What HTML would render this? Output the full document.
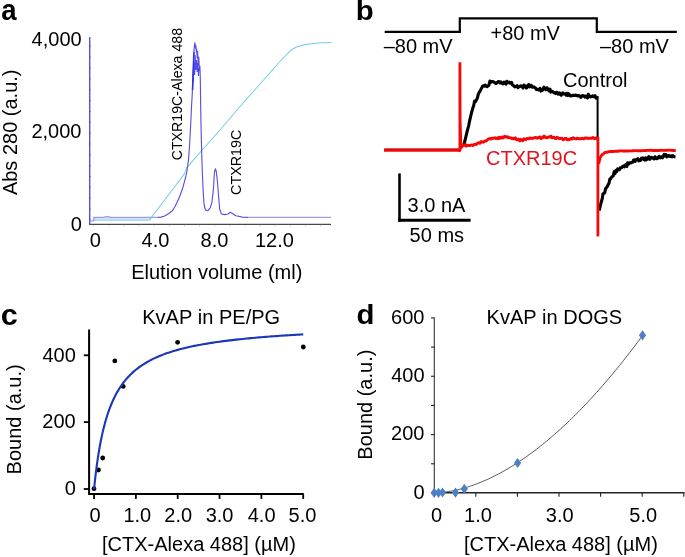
<!DOCTYPE html>
<html><head><meta charset="utf-8"><title>Figure</title>
<style>
html,body{margin:0;padding:0;background:#fff;}
body{width:685px;height:557px;overflow:hidden;}
svg{display:block;will-change:transform;}
text{font-family:"Liberation Sans",sans-serif;font-kerning:none;}
</style></head><body>
<svg width="685" height="557" viewBox="0 0 685 557">
<rect width="685" height="557" fill="#fff"/>
<rect x="93.8" y="217.6" width="57" height="2.9" fill="#c9e0f9"/>
<line x1="89" y1="224.4" x2="331" y2="224.4" stroke="#484848" stroke-width="1.2"/>
<line x1="93.80" y1="225.0" x2="93.80" y2="226.6" stroke="#d4d4d4" stroke-width="0.9"/>
<line x1="108.92" y1="225.0" x2="108.92" y2="226.6" stroke="#d4d4d4" stroke-width="0.9"/>
<line x1="124.04" y1="225.0" x2="124.04" y2="226.6" stroke="#d4d4d4" stroke-width="0.9"/>
<line x1="139.16" y1="225.0" x2="139.16" y2="226.6" stroke="#d4d4d4" stroke-width="0.9"/>
<line x1="154.28" y1="225.0" x2="154.28" y2="226.6" stroke="#d4d4d4" stroke-width="0.9"/>
<line x1="169.40" y1="225.0" x2="169.40" y2="226.6" stroke="#d4d4d4" stroke-width="0.9"/>
<line x1="184.52" y1="225.0" x2="184.52" y2="226.6" stroke="#d4d4d4" stroke-width="0.9"/>
<line x1="199.64" y1="225.0" x2="199.64" y2="226.6" stroke="#d4d4d4" stroke-width="0.9"/>
<line x1="214.76" y1="225.0" x2="214.76" y2="226.6" stroke="#d4d4d4" stroke-width="0.9"/>
<line x1="229.88" y1="225.0" x2="229.88" y2="226.6" stroke="#d4d4d4" stroke-width="0.9"/>
<line x1="245.00" y1="225.0" x2="245.00" y2="226.6" stroke="#d4d4d4" stroke-width="0.9"/>
<line x1="260.12" y1="225.0" x2="260.12" y2="226.6" stroke="#d4d4d4" stroke-width="0.9"/>
<line x1="275.24" y1="225.0" x2="275.24" y2="226.6" stroke="#d4d4d4" stroke-width="0.9"/>
<line x1="290.36" y1="225.0" x2="290.36" y2="226.6" stroke="#d4d4d4" stroke-width="0.9"/>
<line x1="305.48" y1="225.0" x2="305.48" y2="226.6" stroke="#d4d4d4" stroke-width="0.9"/>
<line x1="320.60" y1="225.0" x2="320.60" y2="226.6" stroke="#d4d4d4" stroke-width="0.9"/>
<line x1="89.7" y1="37" x2="89.7" y2="224.8" stroke="#5050e0" stroke-width="1.4"/>
<line x1="89.2" y1="46.30" x2="90.8" y2="46.30" stroke="#3a3aa8" stroke-width="0.9" opacity="0.6"/>
<line x1="89.2" y1="57.15" x2="90.8" y2="57.15" stroke="#3a3aa8" stroke-width="0.9" opacity="0.6"/>
<line x1="89.2" y1="68.00" x2="90.8" y2="68.00" stroke="#3a3aa8" stroke-width="0.9" opacity="0.6"/>
<line x1="89.2" y1="78.85" x2="90.8" y2="78.85" stroke="#3a3aa8" stroke-width="0.9" opacity="0.6"/>
<line x1="89.2" y1="89.70" x2="90.8" y2="89.70" stroke="#3a3aa8" stroke-width="0.9" opacity="0.6"/>
<line x1="89.2" y1="100.55" x2="90.8" y2="100.55" stroke="#3a3aa8" stroke-width="0.9" opacity="0.6"/>
<line x1="89.2" y1="111.40" x2="90.8" y2="111.40" stroke="#3a3aa8" stroke-width="0.9" opacity="0.6"/>
<line x1="89.2" y1="122.25" x2="90.8" y2="122.25" stroke="#3a3aa8" stroke-width="0.9" opacity="0.6"/>
<line x1="89.2" y1="133.10" x2="90.8" y2="133.10" stroke="#3a3aa8" stroke-width="0.9" opacity="0.6"/>
<line x1="89.2" y1="143.95" x2="90.8" y2="143.95" stroke="#3a3aa8" stroke-width="0.9" opacity="0.6"/>
<line x1="89.2" y1="154.80" x2="90.8" y2="154.80" stroke="#3a3aa8" stroke-width="0.9" opacity="0.6"/>
<line x1="89.2" y1="165.65" x2="90.8" y2="165.65" stroke="#3a3aa8" stroke-width="0.9" opacity="0.6"/>
<line x1="89.2" y1="176.50" x2="90.8" y2="176.50" stroke="#3a3aa8" stroke-width="0.9" opacity="0.6"/>
<line x1="89.2" y1="187.35" x2="90.8" y2="187.35" stroke="#3a3aa8" stroke-width="0.9" opacity="0.6"/>
<line x1="89.2" y1="198.20" x2="90.8" y2="198.20" stroke="#3a3aa8" stroke-width="0.9" opacity="0.6"/>
<line x1="89.2" y1="209.05" x2="90.8" y2="209.05" stroke="#3a3aa8" stroke-width="0.9" opacity="0.6"/>
<line x1="89.2" y1="219.90" x2="90.8" y2="219.90" stroke="#3a3aa8" stroke-width="0.9" opacity="0.6"/>
<polyline points="93.80,220.30 149.80,220.30" fill="none" stroke="#a4d6f4" stroke-width="1.0"/>
<polyline points="149.80,220.30 152.00,216.60 160.00,206.00 170.00,193.00 184.40,173.90 186.70,167.90 200.00,152.50 220.00,130.00 240.00,106.50 260.00,84.00 280.00,61.50 288.50,52.60 292.00,49.50 296.50,47.00 303.00,45.00 312.70,43.60 322.00,42.80 331.30,42.60" fill="none" stroke="#72ccf0" stroke-width="1.05" stroke-linejoin="round"/>
<polyline points="89.80,220.90 93.80,220.90 93.80,217.40 104.00,217.40 106.00,216.70 108.50,216.70 110.00,217.40 158.00,217.40" fill="none" stroke="#a09ee6" stroke-width="1.4" stroke-linejoin="round"/>
<polyline points="248.00,217.40 331.00,217.40" fill="none" stroke="#a09ee6" stroke-width="1.4" stroke-linejoin="round"/>
<polyline points="158.00,217.40 161.00,217.10 164.60,216.00 168.50,213.80 172.50,210.50 175.00,206.50 177.40,201.60 179.50,197.00 181.40,191.70 183.00,187.00 184.40,181.80 185.70,177.00 186.80,172.00 188.50,160.00 189.60,145.00 190.40,130.00 191.00,118.00 191.60,105.00 192.10,97.00 192.70,83.20 193.30,72.00 193.50,66.00 193.90,52.00 194.40,46.00 194.90,42.70 195.40,48.00 195.90,45.50 196.30,52.00 196.70,49.00 197.20,58.00 197.60,51.50 198.20,65.00 198.80,57.00 199.30,70.00 199.90,66.00 200.30,78.00 200.60,100.00 201.00,125.00 201.50,145.00 201.90,160.00 202.50,176.00 203.00,187.80 203.50,197.00 204.10,204.50 205.00,208.50 205.80,210.10 208.00,210.70 210.20,207.90 211.90,202.30 213.00,193.40 213.70,185.00 214.10,176.70 214.70,171.00 215.30,168.90 215.90,170.00 216.40,172.20 217.50,182.30 218.60,196.70 219.70,209.00 221.40,214.00 224.70,214.60 228.10,214.00 230.30,212.30 232.50,213.50 235.90,215.70 242.50,217.10 248.00,217.40" fill="none" stroke="#5b52dc" stroke-width="1.15" stroke-linejoin="round"/>
<polyline points="193.2,82 193.8,62 194.6,75 195.2,55 195.8,70 196.5,60 197.2,72 197.8,63 198.5,76 199.2,68" fill="none" stroke="#3a3ae8" stroke-width="1.1" opacity="0.9"/>
<polyline points="193.9,52 193.4,66 193.0,76 192.6,90" fill="none" stroke="#3434e6" stroke-width="1.6"/>
<polyline points="384.7,31.8 459.8,31.8 459.8,18.4 596.8,18.4 596.8,31.8 676.8,31.8" fill="none" stroke="#000" stroke-width="2.2"/>
<line x1="384.0" y1="150.1" x2="460" y2="150.1" stroke="#f40808" stroke-width="3.2"/>
<line x1="384.6" y1="148.8" x2="459" y2="148.8" stroke="#8a0000" stroke-width="0.8" opacity="0.55"/>
<polygon points="458.5,62.3 461.3,62.3 461.5,120 462.3,146.5 461,151.7 458.5,151.7" fill="#f40808"/>
<polyline points="463.50,145.28 464.00,144.83 464.87,140.87 465.73,137.47 466.60,133.61 467.60,129.57 468.60,126.05 469.60,120.81 470.60,116.68 471.60,112.36 472.60,108.84 473.60,105.71 474.60,101.18 475.50,101.76 476.40,99.90 477.30,98.32 478.25,94.46 479.20,92.42 480.20,90.84 481.20,88.90 482.60,86.26 483.47,85.83 484.33,86.18 485.20,85.05 486.10,86.20 487.00,86.60 487.90,86.04 488.90,85.06 489.90,81.07 490.90,82.32 491.90,81.47 493.00,81.57 494.00,82.17 495.00,82.64 496.00,83.54 496.80,83.01 497.60,82.22 498.40,81.59 499.20,81.76 500.00,83.04 501.00,81.85 502.00,83.27 503.00,83.96 504.00,82.13 505.00,83.24 506.00,84.11 506.80,81.23 507.60,82.61 508.40,82.73 509.20,82.07 510.00,83.12 510.80,83.17 511.60,82.50 512.40,84.96 513.20,85.35 514.00,86.10 514.80,86.88 515.60,86.33 516.40,86.48 517.20,85.64 518.00,87.62 518.83,86.53 519.67,86.62 520.50,85.87 521.33,86.08 522.17,86.40 523.00,87.90 523.83,85.07 524.67,85.56 525.50,87.00 526.33,88.03 527.17,87.29 528.00,85.19 528.83,84.56 529.67,86.90 530.50,85.87 531.33,85.45 532.17,87.13 533.00,87.14 533.83,86.83 534.67,87.41 535.50,88.07 536.33,89.55 537.17,89.23 538.00,89.64 539.00,89.93 540.00,88.40 541.00,91.09 542.00,90.41 543.00,89.65 544.00,87.12 545.00,88.43 546.00,89.85 547.00,87.76 548.00,89.48 549.00,90.83 550.00,89.19 550.80,92.05 551.60,91.53 552.40,91.31 553.20,92.10 554.00,92.75 554.80,92.50 555.60,93.57 556.40,92.24 557.20,92.65 558.00,94.09 558.80,93.40 559.60,92.81 560.40,94.54 561.20,95.17 562.00,93.72 562.80,92.89 563.60,93.91 564.40,93.85 565.20,93.69 566.00,95.09 566.80,93.27 567.60,95.45 568.40,93.54 569.20,94.19 570.00,95.64 570.83,96.06 571.67,95.83 572.50,95.39 573.33,95.22 574.17,95.23 575.00,95.59 575.83,95.03 576.67,95.50 577.50,95.84 578.33,95.43 579.17,96.17 580.00,96.08 580.83,97.43 581.67,96.11 582.50,95.59 583.33,95.75 584.17,96.17 585.00,97.09 585.83,96.06 586.67,96.73 587.50,98.01 588.33,94.32 589.17,95.59 590.00,96.81 590.83,96.84 591.67,96.60 592.50,95.93 593.33,96.76 594.17,96.34 595.00,95.56 596.10,98.22 597.20,96.60" fill="none" stroke="#000" stroke-width="3.1" stroke-linejoin="round"/>
<line x1="597.6" y1="96" x2="597.6" y2="140" stroke="#000" stroke-width="2.0"/>
<polyline points="599.20,210.53 600.50,204.92 601.33,201.81 602.17,198.95 603.00,193.68 603.87,193.45 604.73,192.59 605.60,188.61 606.45,187.64 607.30,186.61 608.15,184.63 609.00,183.27 609.85,179.05 610.70,178.70 611.55,177.21 612.40,176.53 613.30,175.80 614.20,171.47 615.10,173.55 616.00,170.27 616.82,171.40 617.63,168.87 618.45,169.60 619.27,169.78 620.08,167.96 620.90,167.56 621.75,167.59 622.60,166.55 623.45,165.87 624.30,166.77 625.15,165.87 626.00,164.25 626.85,166.47 627.70,162.79 628.55,164.18 629.40,162.81 630.25,162.78 631.10,162.90 631.92,162.19 632.73,162.24 633.55,160.10 634.37,159.82 635.18,161.32 636.00,159.68 636.90,159.38 637.80,158.75 638.70,160.83 639.60,160.13 640.50,160.50 641.40,158.20 642.23,158.91 643.05,157.86 643.88,159.39 644.70,160.00 645.52,157.81 646.35,159.80 647.17,159.23 648.00,158.15 648.88,156.54 649.75,159.32 650.62,157.96 651.50,157.44 652.38,158.20 653.25,158.12 654.12,158.96 655.00,156.73 655.83,158.46 656.67,158.65 657.50,158.51 658.33,157.01 659.17,156.43 660.00,157.82 660.83,156.94 661.67,156.84 662.50,157.84 663.33,156.29 664.17,154.46 665.00,155.97 665.88,154.64 666.76,156.84 667.64,156.33 668.52,155.46 669.40,155.89 670.28,156.53 671.16,155.81 672.04,156.79 672.92,155.53 673.80,156.38 674.65,156.82 675.50,156.97" fill="none" stroke="#000" stroke-width="3.1" stroke-linejoin="round"/>
<polyline points="460.50,147.30 461.75,147.10 463.00,144.96 464.00,145.27 465.00,144.83 466.00,146.15 467.00,145.07 468.00,145.58 469.00,145.46 470.00,145.49 471.00,144.99 472.00,145.12 473.00,145.58 474.00,144.55 475.00,144.52 476.00,144.49 477.00,143.71 478.00,142.89 479.00,142.86 480.00,143.25 481.00,141.69 482.00,141.82 483.00,142.20 484.00,141.76 485.00,141.00 486.00,140.96 487.00,140.27 488.00,139.27 489.00,138.70 490.00,138.71 491.00,139.02 492.00,138.33 493.00,138.17 494.00,138.21 495.00,137.85 496.00,138.48 497.00,137.98 498.00,138.66 498.94,137.28 499.88,138.33 500.82,137.73 501.76,136.99 502.70,138.03 503.64,137.42 504.58,136.38 505.52,136.83 506.46,137.19 507.40,136.69 508.40,137.48 509.40,137.69 510.40,137.89 511.40,137.96 512.40,138.64 513.40,138.57 514.40,138.70 515.31,137.81 516.23,139.39 517.14,139.82 518.06,139.34 518.97,139.50 519.89,140.83 520.80,139.41 521.84,140.09 522.88,140.65 523.92,138.82 524.96,139.23 526.00,139.45 526.94,138.48 527.88,138.71 528.82,138.80 529.76,137.91 530.70,138.21 531.64,138.31 532.58,138.48 533.52,138.02 534.46,137.88 535.40,137.44 536.35,137.65 537.30,138.13 538.25,137.68 539.20,137.17 540.15,137.08 541.10,138.58 542.05,137.80 543.00,137.49 544.00,135.99 545.00,137.39 546.00,137.29 547.00,137.79 548.00,137.18 549.00,136.91 550.00,137.14 551.00,136.19 552.00,137.69 553.00,137.53 554.00,137.23 555.00,138.31 556.00,138.69 557.00,137.41 558.00,137.90 559.00,138.45 560.00,138.51 561.00,138.36 562.00,138.22 563.00,139.73 564.00,139.35 565.00,138.46 566.00,138.37 567.00,139.71 568.00,139.36 569.00,139.71 570.00,139.22 571.00,138.44 572.00,138.92 573.00,137.79 574.00,138.39 575.00,138.66 576.00,138.89 577.00,138.29 578.00,138.52 579.00,138.74 580.00,138.67 580.91,138.76 581.82,138.54 582.73,138.27 583.64,138.75 584.55,138.39 585.45,137.96 586.36,138.03 587.27,138.28 588.18,138.21 589.09,138.30 590.00,138.20 590.94,138.24 591.88,138.06 592.81,137.52 593.75,138.24 594.69,138.49 595.62,138.17 596.56,137.85 597.50,138.10" fill="none" stroke="#f40808" stroke-width="3.0" stroke-linejoin="round"/>
<line x1="597.9" y1="137.0" x2="597.9" y2="236.4" stroke="#f40808" stroke-width="2.8"/>
<polyline points="598.60,163.81 600.00,157.81 601.00,156.22 602.00,154.79 603.00,154.05 604.00,153.27 605.00,152.48 606.00,152.40 607.00,152.29 608.00,152.01 609.00,151.59 610.00,151.39 610.91,151.46 611.82,151.47 612.73,151.48 613.64,151.44 614.55,151.37 615.45,151.26 616.36,151.27 617.27,151.28 618.18,151.25 619.09,151.02 620.00,150.89 620.91,150.85 621.82,150.89 622.73,150.96 623.64,150.94 624.55,151.00 625.45,150.90 626.36,151.02 627.27,151.03 628.18,151.02 629.09,150.84 630.00,150.91 630.91,150.89 631.82,150.93 632.73,150.81 633.64,150.82 634.55,150.67 635.45,150.60 636.36,150.61 637.27,150.75 638.18,150.78 639.09,150.74 640.00,150.71 640.91,150.69 641.82,150.69 642.73,150.63 643.64,150.56 644.55,150.59 645.45,150.50 646.36,150.47 647.27,150.42 648.18,150.38 649.09,150.38 650.00,150.24 650.91,150.28 651.82,150.34 652.73,150.50 653.64,150.54 654.55,150.47 655.45,150.33 656.36,150.45 657.27,150.49 658.18,150.65 659.09,150.46 660.00,150.40 660.93,150.21 661.86,150.32 662.79,150.39 663.72,150.39 664.65,150.33 665.58,150.31 666.51,150.32 667.44,150.20 668.36,150.09 669.29,150.17 670.22,150.19 671.15,150.27 672.08,150.33 673.01,150.46 673.94,150.51 674.87,150.59 675.80,150.70" fill="none" stroke="#f40808" stroke-width="2.9" stroke-linejoin="round"/>
<line x1="399.5" y1="173.4" x2="399.5" y2="221.8" stroke="#000" stroke-width="2.6"/>
<line x1="398.2" y1="220.3" x2="470.6" y2="220.3" stroke="#000" stroke-width="3.0"/>
<polyline points="89.1,329.6 89.1,493.9 303.8,493.9" fill="none" stroke="#000" stroke-width="2"/>
<line x1="83.8" y1="355.30" x2="89" y2="355.30" stroke="#000" stroke-width="1.8"/>
<line x1="83.8" y1="422.10" x2="89" y2="422.10" stroke="#000" stroke-width="1.8"/>
<line x1="83.8" y1="489.00" x2="89" y2="489.00" stroke="#000" stroke-width="1.8"/>
<line x1="94.05" y1="493.9" x2="94.05" y2="498.9" stroke="#000" stroke-width="1.8"/>
<line x1="135.88" y1="493.9" x2="135.88" y2="498.9" stroke="#000" stroke-width="1.8"/>
<line x1="177.71" y1="493.9" x2="177.71" y2="498.9" stroke="#000" stroke-width="1.8"/>
<line x1="219.54" y1="493.9" x2="219.54" y2="498.9" stroke="#000" stroke-width="1.8"/>
<line x1="261.37" y1="493.9" x2="261.37" y2="498.9" stroke="#000" stroke-width="1.8"/>
<line x1="303.20" y1="493.9" x2="303.20" y2="498.9" stroke="#000" stroke-width="1.8"/>
<circle cx="94.00" cy="488.70" r="2.4" fill="#000"/>
<circle cx="98.40" cy="470.00" r="2.4" fill="#000"/>
<circle cx="102.70" cy="458.00" r="2.4" fill="#000"/>
<circle cx="114.80" cy="360.90" r="2.4" fill="#000"/>
<circle cx="123.20" cy="386.40" r="2.4" fill="#000"/>
<circle cx="177.60" cy="342.30" r="2.4" fill="#000"/>
<circle cx="303.30" cy="347.00" r="2.4" fill="#000"/>
<polyline points="94.05,489.00 94.89,481.05 95.72,473.82 96.56,467.22 97.40,461.17 98.23,455.61 99.07,450.47 99.91,445.71 100.74,441.30 101.58,437.19 102.42,433.35 103.25,429.76 104.09,426.39 104.93,423.23 105.76,420.25 106.60,417.45 107.44,414.80 108.27,412.29 109.11,409.91 109.95,407.66 110.78,405.52 111.62,403.48 112.46,401.55 113.29,399.70 114.13,397.93 114.97,396.25 115.80,394.63 116.64,393.09 117.47,391.61 118.31,390.19 119.15,388.83 119.98,387.52 120.82,386.26 121.66,385.05 122.49,383.88 123.33,382.75 124.17,381.67 125.00,380.62 125.84,379.61 126.68,378.64 127.51,377.69 128.35,376.78 129.19,375.90 130.02,375.04 130.86,374.22 131.70,373.41 132.53,372.64 133.37,371.88 134.21,371.15 135.04,370.44 135.88,369.74 137.97,368.10 140.06,366.56 142.15,365.13 144.25,363.78 146.34,362.52 148.43,361.33 150.52,360.20 152.61,359.14 154.70,358.14 156.80,357.19 158.89,356.29 160.98,355.43 163.07,354.62 165.16,353.84 167.25,353.10 169.34,352.40 171.44,351.72 173.53,351.08 175.62,350.46 177.71,349.87 179.80,349.30 181.89,348.76 183.98,348.23 186.08,347.73 188.17,347.24 190.26,346.78 192.35,346.33 194.44,345.89 196.53,345.47 198.62,345.07 200.72,344.68 202.81,344.30 204.90,343.94 206.99,343.59 209.08,343.24 211.17,342.91 213.27,342.59 215.36,342.28 217.45,341.98 219.54,341.68 221.63,341.40 223.72,341.12 225.81,340.85 227.91,340.59 230.00,340.34 232.09,340.09 234.18,339.85 236.27,339.62 238.36,339.39 240.45,339.17 242.55,338.95 244.64,338.74 246.73,338.53 248.82,338.33 250.91,338.13 253.00,337.94 255.10,337.76 257.19,337.57 259.28,337.39 261.37,337.22 263.46,337.05 265.55,336.88 267.64,336.72 269.74,336.56 271.83,336.40 273.92,336.25 276.01,336.10 278.10,335.96 280.19,335.81 282.28,335.67 284.38,335.53 286.47,335.40 288.56,335.27 290.65,335.14 292.74,335.01 294.83,334.89 296.93,334.76 299.02,334.64 301.11,334.52 303.20,334.41" fill="none" stroke="#1b36b8" stroke-width="2.1" stroke-linejoin="round"/>
<line x1="434.3" y1="317.5" x2="434.3" y2="493.2" stroke="#333" stroke-width="1.1"/>
<line x1="433.8" y1="492.8" x2="684.5" y2="492.8" stroke="#222" stroke-width="1.4"/>
<line x1="431.0" y1="317.90" x2="434.3" y2="317.90" stroke="#222" stroke-width="1.1"/>
<line x1="431.0" y1="347.08" x2="434.3" y2="347.08" stroke="#222" stroke-width="1.1"/>
<line x1="431.0" y1="376.26" x2="434.3" y2="376.26" stroke="#222" stroke-width="1.1"/>
<line x1="431.0" y1="405.44" x2="434.3" y2="405.44" stroke="#222" stroke-width="1.1"/>
<line x1="431.0" y1="434.62" x2="434.3" y2="434.62" stroke="#222" stroke-width="1.1"/>
<line x1="431.0" y1="463.80" x2="434.3" y2="463.80" stroke="#222" stroke-width="1.1"/>
<line x1="431.0" y1="492.98" x2="434.3" y2="492.98" stroke="#222" stroke-width="1.1"/>
<line x1="475.80" y1="492.8" x2="475.80" y2="496.8" stroke="#222" stroke-width="1.1"/>
<line x1="517.40" y1="492.8" x2="517.40" y2="496.8" stroke="#222" stroke-width="1.1"/>
<line x1="559.00" y1="492.8" x2="559.00" y2="496.8" stroke="#222" stroke-width="1.1"/>
<line x1="600.60" y1="492.8" x2="600.60" y2="496.8" stroke="#222" stroke-width="1.1"/>
<line x1="642.20" y1="492.8" x2="642.20" y2="496.8" stroke="#222" stroke-width="1.1"/>
<line x1="683.80" y1="492.8" x2="683.80" y2="496.8" stroke="#222" stroke-width="1.1"/>
<polyline points="438.36,492.66 440.44,492.52 442.52,492.33 444.60,492.09 446.68,491.82 448.76,491.51 450.84,491.15 452.92,490.76 455.00,490.34 457.08,489.88 459.16,489.38 461.24,488.85 463.32,488.28 465.40,487.68 467.48,487.05 469.56,486.39 471.64,485.69 473.72,484.96 475.80,484.20 477.88,483.41 479.96,482.59 482.04,481.73 484.12,480.85 486.20,479.94 488.28,479.00 490.36,478.02 492.44,477.02 494.52,475.99 496.60,474.93 498.68,473.84 500.76,472.72 502.84,471.58 504.92,470.40 507.00,469.20 509.08,467.97 511.16,466.71 513.24,465.43 515.32,464.11 517.40,462.77 519.48,461.40 521.56,460.01 523.64,458.59 525.72,457.14 527.80,455.66 529.88,454.16 531.96,452.63 534.04,451.08 536.12,449.50 538.20,447.89 540.28,446.26 542.36,444.60 544.44,442.91 546.52,441.20 548.60,439.46 550.68,437.70 552.76,435.91 554.84,434.10 556.92,432.26 559.00,430.40 561.08,428.51 563.16,426.60 565.24,424.66 567.32,422.69 569.40,420.71 571.48,418.69 573.56,416.65 575.64,414.59 577.72,412.51 579.80,410.39 581.88,408.26 583.96,406.10 586.04,403.91 588.12,401.70 590.20,399.47 592.28,397.21 594.36,394.93 596.44,392.63 598.52,390.30 600.60,387.95 602.68,385.57 604.76,383.17 606.84,380.75 608.92,378.30 611.00,375.83 613.08,373.34 615.16,370.82 617.24,368.28 619.32,365.71 621.40,363.13 623.48,360.51 625.56,357.88 627.64,355.22 629.72,352.54 631.80,349.84 633.88,347.11 635.96,344.36 638.04,341.59 640.12,338.80 642.20,335.98" fill="none" stroke="#444" stroke-width="0.9"/>
<path d="M434.20 487.70l3.6 5.1l-3.6 5.1l-3.6 -5.1z" fill="#4d7fc4"/>
<path d="M438.50 487.70l3.6 5.1l-3.6 5.1l-3.6 -5.1z" fill="#4d7fc4"/>
<path d="M442.50 487.40l3.6 5.1l-3.6 5.1l-3.6 -5.1z" fill="#4d7fc4"/>
<path d="M455.50 487.50l3.6 5.1l-3.6 5.1l-3.6 -5.1z" fill="#4d7fc4"/>
<path d="M464.30 483.80l3.6 5.1l-3.6 5.1l-3.6 -5.1z" fill="#4d7fc4"/>
<path d="M517.60 457.90l3.6 5.1l-3.6 5.1l-3.6 -5.1z" fill="#4d7fc4"/>
<path d="M642.50 330.20l3.6 5.1l-3.6 5.1l-3.6 -5.1z" fill="#4d7fc4"/>
<text transform="translate(1.33 20.30) scale(0.9360 1)" font-size="29.50" font-weight="bold" fill="#000">a</text>
<text transform="translate(355.75 20.30) scale(1.0500 1)" font-size="28.00" font-weight="bold" fill="#000">b</text>
<text transform="translate(0.72 325.10) scale(1.0400 1)" font-size="29.50" font-weight="bold" fill="#000">c</text>
<text transform="translate(356.59 324.40) scale(1.0500 1)" font-size="28.00" font-weight="bold" fill="#000">d</text>
<text transform="translate(31.59 45.80)" font-size="20.00" fill="#000">4,000</text>
<text transform="translate(31.41 138.20)" font-size="20.00" fill="#000">2,000</text>
<text transform="translate(70.69 230.90)" font-size="20.00" fill="#000">0</text>
<text transform="translate(89.79 246.50)" font-size="20.00" fill="#000">0</text>
<text transform="translate(141.51 246.50)" font-size="20.00" fill="#000">4.0</text>
<text transform="translate(200.60 246.50)" font-size="20.00" fill="#000">8.0</text>
<text transform="translate(254.92 246.50)" font-size="20.00" fill="#000">12.0</text>
<text transform="translate(131.17 278.50)" font-size="20.00" fill="#000">Elution volume (ml)</text>
<text transform="translate(17.40 195.11) rotate(-90)" font-size="20.00" fill="#000">Abs 280 (a.u.)</text>
<text transform="translate(181.50 160.35) rotate(-90)" font-size="14.20" fill="#000">CTXR19C-Alexa 488</text>
<text transform="translate(240.60 194.92) rotate(-90)" font-size="14.30" fill="#000">CTXR19C</text>
<text transform="translate(383.68 53.35)" font-size="20.00" fill="#000">–80 mV</text>
<text transform="translate(490.46 40.00)" font-size="20.00" fill="#000">+80 mV</text>
<text transform="translate(599.98 53.30)" font-size="20.00" fill="#000">–80 mV</text>
<text transform="translate(563.02 87.00)" font-size="20.00" fill="#000">Control</text>
<text transform="translate(486.01 165.00)" font-size="20.00" fill="#e0141c">CTXR19C</text>
<text transform="translate(407.58 212.35)" font-size="20.00" fill="#000">3.0 nA</text>
<text transform="translate(409.58 242.30)" font-size="20.00" fill="#000">50 ms</text>
<text transform="translate(142.26 323.50)" font-size="20.00" fill="#000">KvAP in PE/PG</text>
<text transform="translate(42.43 361.80)" font-size="20.00" fill="#000">400</text>
<text transform="translate(42.35 428.40)" font-size="20.00" fill="#000">200</text>
<text transform="translate(64.74 495.10)" font-size="20.00" fill="#000">0</text>
<text transform="translate(89.54 521.70)" font-size="20.00" fill="#000">0</text>
<text transform="translate(123.38 521.70)" font-size="20.00" fill="#000">1.0</text>
<text transform="translate(164.34 521.70)" font-size="20.00" fill="#000">2.0</text>
<text transform="translate(205.66 521.70)" font-size="20.00" fill="#000">3.0</text>
<text transform="translate(247.71 521.70)" font-size="20.00" fill="#000">4.0</text>
<text transform="translate(288.59 521.70)" font-size="20.00" fill="#000">5.0</text>
<text transform="translate(20.60 474.38) rotate(-90)" font-size="20.00" fill="#000">Bound (a.u.)</text>
<text transform="translate(102.01 550.60)" font-size="20.00" fill="#000">[CTX-Alexa 488] (µM)</text>
<text transform="translate(486.54 323.50)" font-size="20.00" fill="#000">KvAP in DOGS</text>
<text transform="translate(391.10 323.50)" font-size="20.00" fill="#000">600</text>
<text transform="translate(391.23 381.90)" font-size="20.00" fill="#000">400</text>
<text transform="translate(391.10 440.40)" font-size="20.00" fill="#000">200</text>
<text transform="translate(413.44 499.20)" font-size="20.00" fill="#000">0</text>
<text transform="translate(431.04 521.60)" font-size="20.00" fill="#000">0</text>
<text transform="translate(464.08 521.60)" font-size="20.00" fill="#000">1.0</text>
<text transform="translate(545.81 521.60)" font-size="20.00" fill="#000">3.0</text>
<text transform="translate(629.34 521.60)" font-size="20.00" fill="#000">5.0</text>
<text transform="translate(371.80 459.68) rotate(-90)" font-size="20.00" fill="#000">Bound (a.u.)</text>
<text transform="translate(464.01 550.60)" font-size="20.00" fill="#000">[CTX-Alexa 488] (µM)</text>
</svg>
</body></html>
